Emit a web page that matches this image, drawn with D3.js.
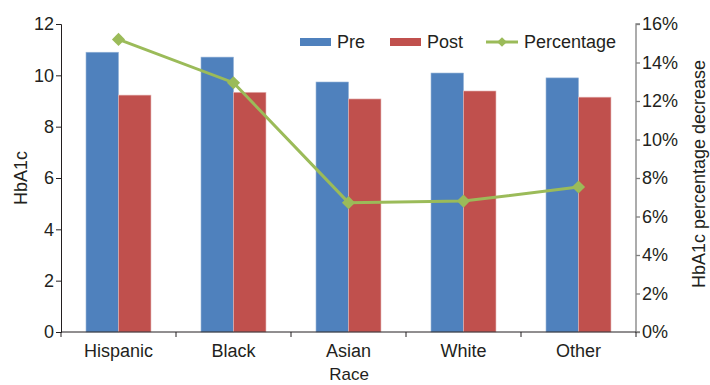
<!DOCTYPE html>
<html><head><meta charset="utf-8">
<script src="https://cdn.jsdelivr.net/npm/d3@7"></script>
<style>body{margin:0;background:#fff}text{font-family:"Liberation Sans",Arial,sans-serif;fill:#231f20}</style>
</head><body><svg id="c" width="710" height="385"></svg>
<script>
const categories = ["Hispanic","Black","Asian","White","Other"];
const preValues = [10.9, 10.71, 9.74, 10.09, 9.9];
const postValues = [9.23, 9.34, 9.08, 9.39, 9.15];
const pctValues = [15.2, 12.95, 6.72, 6.8, 7.53];
const leftTicks = [0,2,4,6,8,10,12];
const rightTicks = [0,2,4,6,8,10,12,14,16];

const svg = d3.select("#c");
const L = 61, R = 636, T = 24, B = 332;
const x = d3.scaleBand().domain(categories).range([L,R]).paddingInner(0).paddingOuter(0);
const xs = d3.scaleBand().domain(["pre","post"]).range([0,x.bandwidth()]).paddingOuter(0.77).paddingInner(0);
const y = d3.scaleLinear().domain([0,12]).range([B,T]);
const y2 = d3.scaleLinear().domain([0,16]).range([B,T]);

// bars
const g = svg.append("g");
categories.forEach((c,i)=>{
  g.append("rect").attr("x",x(c)+xs("pre")).attr("y",y(preValues[i])).attr("width",xs.bandwidth()).attr("height",B-y(preValues[i]))
   .attr("fill","#4f81bd").attr("stroke","#95b3d7").attr("stroke-width",0.6);
  g.append("rect").attr("x",x(c)+xs("post")).attr("y",y(postValues[i])).attr("width",xs.bandwidth()).attr("height",B-y(postValues[i]))
   .attr("fill","#c0504d").attr("stroke","#e6b9b8").attr("stroke-width",0.6);
});

// axes
const fs = "18px";
const ax = svg.append("g").attr("transform",`translate(${L},0)`).call(d3.axisLeft(y).tickValues(leftTicks).tickSize(5).tickPadding(2).tickFormat(d3.format("d")));
ax.selectAll("text").style("font-size",fs).attr("fill","#231f20");
ax.selectAll("line,path").attr("stroke","#231f20");
const ar = svg.append("g").attr("transform",`translate(${R},0)`).call(d3.axisRight(y2).tickValues(rightTicks).tickSize(4).tickPadding(2).tickFormat(d=>d+"%"));
ar.selectAll("text").style("font-size",fs).attr("fill","#231f20");
ar.selectAll("line,path").attr("stroke","#808080").attr("stroke-width",1.3);
ar.select("path").attr("d",`M4,${T}H0V${B}H4`);

// bottom axis
const bx = svg.append("g");
bx.append("line").attr("x1",L).attr("x2",R).attr("y1",B).attr("y2",B).attr("stroke","#231f20");
categories.concat([null]).forEach((c,i)=>{
  const xx = c===null ? R : x(c);
  bx.append("line").attr("x1",xx).attr("x2",xx).attr("y1",B).attr("y2",B+5).attr("stroke","#231f20");
});
categories.forEach(c=>{
  bx.append("text").attr("x",x(c)+x.bandwidth()/2).attr("y",357).attr("text-anchor","middle").style("font-size",fs).text(c);
});

// line
const line = d3.line().x((d,i)=>x(categories[i])+x.bandwidth()/2).y(d=>y2(d));
svg.append("path").datum(pctValues).attr("d",line).attr("fill","none").attr("stroke","#9bbb59").attr("stroke-width",3);
const diamond = d3.symbol().type(d3.symbolDiamond2).size(110);
svg.selectAll(".mk").data(pctValues).enter().append("path")
  .attr("transform",(d,i)=>`translate(${x(categories[i])+x.bandwidth()/2},${y2(d)})`)
  .attr("d",diamond).attr("fill","#9bbb59");

// titles
svg.append("text").attr("transform",`translate(27,178) rotate(-90)`).attr("text-anchor","middle").style("font-size",fs).text("HbA1c");
svg.append("text").attr("transform",`translate(705,174) rotate(-90)`).attr("text-anchor","middle").style("font-size",fs).text("HbA1c percentage decrease");
svg.append("text").attr("x",349).attr("y",380).attr("text-anchor","middle").style("font-size","17px").text("Race");

// legend
const lg = svg.append("g");
lg.append("rect").attr("x",300).attr("y",38).attr("width",31).attr("height",8).attr("fill","#4f81bd");
lg.append("text").attr("x",337).attr("y",48).style("font-size",fs).text("Pre");
lg.append("rect").attr("x",390).attr("y",38).attr("width",31).attr("height",8).attr("fill","#c0504d");
lg.append("text").attr("x",427).attr("y",48).style("font-size",fs).text("Post");
lg.append("line").attr("x1",486).attr("x2",518).attr("y1",42).attr("y2",42).attr("stroke","#9bbb59").attr("stroke-width",3);
lg.append("path").attr("transform","translate(502,42)").attr("d",d3.symbol().type(d3.symbolDiamond2).size(60)).attr("fill","#9bbb59");
lg.append("text").attr("x",524).attr("y",48).style("font-size",fs).text("Percentage");
</script></body></html>
